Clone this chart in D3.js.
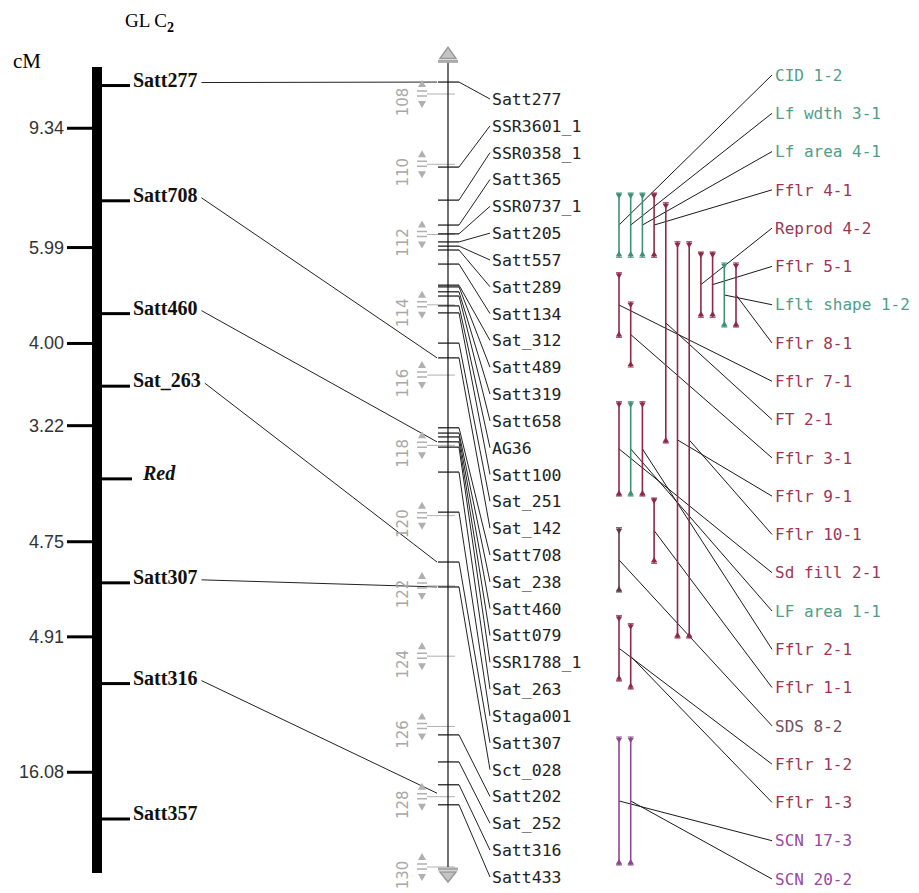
<!DOCTYPE html>
<html>
<head>
<meta charset="utf-8">
<script src="https://cdn.jsdelivr.net/npm/d3@7"></script>
<style>
  body { margin: 0; background: #fff; }
</style>
</head>
<body>
<svg width="919" height="893"></svg>
<script>
// Left linkage group (drawn positions; spacing is not proportional)
const leftMarkers = ["Satt277", "Satt708", "Satt460", "Sat_263", "Red", "Satt307", "Satt316", "Satt357"];
const leftMarkerPos = [2.3, 16.6, 30.6, 39.6, 51.1, 64.0, 76.5, 93.3];
const intervalLabels = ["9.34", "5.99", "4.00", "3.22", "4.75", "4.91", "16.08"];
const intervalPos = [7.6, 22.4, 34.3, 44.5, 58.9, 70.7, 87.5];

// Consensus map (cM)
const consMarkers = ["Satt277", "SSR3601_1", "SSR0358_1", "Satt365", "SSR0737_1", "Satt205", "Satt557",
  "Satt289", "Satt134", "Sat_312", "Satt489", "Satt319", "Satt658", "AG36", "Satt100", "Sat_251",
  "Sat_142", "Satt708", "Sat_238", "Satt460", "Satt079", "SSR1788_1", "Sat_263", "Staga001",
  "Satt307", "Sct_028", "Satt202", "Sat_252", "Satt316", "Satt433"];
const consPos = [107.66, 110.08, 111.02, 111.73, 111.98, 112.21, 112.33, 112.44, 112.84, 113.44,
  113.49, 113.63, 113.75, 114.03, 114.23, 115.09, 115.51, 117.50, 117.65, 117.76, 117.90, 118.05,
  118.76, 119.90, 121.32, 122.03, 126.24, 127.01, 127.66, 128.23];
const scaleTicks = [108, 110, 112, 114, 116, 118, 120, 122, 124, 126, 128, 130];
const axisExtent = [107.1, 130];

// Lines from the left group to the consensus axis
const linkFrom = ["Satt277", "Satt708", "Satt460", "Sat_263", "Satt307", "Satt316"];
const linkTo = [107.66, 115.51, 117.9, 121.32, 122.03, 127.9];

// QTL intervals
const qtlNames = ["CID 1-2", "Lf wdth 3-1", "Lf area 4-1", "Fflr 4-1", "Reprod 4-2", "Fflr 5-1",
  "Lflt shape 1-2", "Fflr 8-1", "Fflr 7-1", "FT 2-1", "Fflr 3-1", "Fflr 9-1", "Fflr 10-1",
  "Sd fill 2-1", "LF area 1-1", "Fflr 2-1", "Fflr 1-1", "SDS 8-2", "Fflr 1-2", "Fflr 1-3",
  "SCN 17-3", "SCN 20-2"];
const qtlGroup = ["leaf", "leaf", "leaf", "flower", "flower", "flower", "leaf", "flower", "flower",
  "flower", "flower", "flower", "flower", "flower", "leaf", "flower", "flower", "sds", "flower",
  "flower", "scn", "scn"];
const qtlLane = [0, 1, 2, 3, 7, 8, 9, 10, 0, 4, 1, 5, 6, 0, 1, 2, 3, 0, 0, 1, 0, 1];
const qtlStart = [110.82, 110.82, 110.82, 110.82, 112.50, 112.50, 112.81, 112.81, 113.09, 111.10,
  113.92, 112.21, 112.21, 116.76, 116.76, 116.76, 119.50, 120.35, 122.85, 123.08, 126.30, 126.30];
const qtlEnd = [112.64, 112.64, 112.64, 112.64, 114.35, 114.35, 114.63, 114.63, 114.92, 117.93,
  115.77, 123.48, 123.48, 119.44, 119.44, 119.44, 121.35, 122.17, 124.70, 124.93, 129.94, 129.94];

const barColor = { leaf: "#3f9078", flower: "#902848", scn: "#8a4a90", sds: "#5e3a46" };
const textColor = { leaf: "#4f9e88", flower: "#a03454", scn: "#9a48a0", sds: "#70505c" };

const svg = d3.select("svg");
const mono = "'DejaVu Sans Mono', monospace";
const serif = "'Liberation Serif', 'Times New Roman', serif";

// Scales
const yLeft = d3.scaleLinear().domain([0, 100]).range([67, 873]);
const y = d3.scaleLinear().domain([108, 130]).range([94, 867]);
const consLabelY = d3.scalePoint().domain(consMarkers).range([99, 877]);
const qtlLabelY = d3.scalePoint().domain(qtlNames).range([75, 879]);
const laneX = d3.scaleLinear().domain([0, 10]).range([619, 736]);

const axisX = 448;

// ---- Left linkage group ----
svg.append("text")
    .attr("x", 125).attr("y", 27)
    .style("font-family", serif).style("font-size", "19px")
    .text("GL C")
  .append("tspan")
    .attr("dy", 5).style("font-size", "14px").style("font-weight", "bold")
    .text("2");

svg.append("text")
    .attr("x", 13).attr("y", 68)
    .style("font-family", serif).style("font-size", "21px")
    .text("cM");

svg.append("rect")
    .attr("x", 92).attr("width", 10)
    .attr("y", yLeft(0)).attr("height", yLeft(100) - yLeft(0))
    .attr("fill", "#000");

svg.selectAll(".itick")
  .data(intervalPos)
  .enter()
  .append("line")
    .attr("x1", 67).attr("x2", 92)
    .attr("y1", d => yLeft(d)).attr("y2", d => yLeft(d))
    .attr("stroke", "#000").attr("stroke-width", 3);

svg.selectAll(".ilabel")
  .data(intervalLabels)
  .enter()
  .append("text")
    .attr("x", 64)
    .attr("y", (d, i) => yLeft(intervalPos[i]) + 6)
    .attr("text-anchor", "end")
    .style("font-family", "'Liberation Sans', Arial, sans-serif")
    .style("font-size", "18px")
    .style("fill", "#333")
    .text(d => d);

svg.selectAll(".mtick")
  .data(leftMarkers)
  .enter()
  .append("line")
    .attr("x1", 102)
    .attr("x2", d => d === "Red" ? 132 : 130)
    .attr("y1", (d, i) => yLeft(leftMarkerPos[i]))
    .attr("y2", (d, i) => yLeft(leftMarkerPos[i]))
    .attr("stroke", "#000").attr("stroke-width", 3);

const leftLabels = svg.selectAll(".mlabel")
  .data(leftMarkers)
  .enter()
  .append("text")
    .attr("x", d => d === "Red" ? 143 : 133)
    .attr("y", (d, i) => yLeft(leftMarkerPos[i]) + 1)
    .style("font-family", serif)
    .style("font-size", "20px")
    .style("font-weight", "bold")
    .style("font-style", d => d === "Red" ? "italic" : "normal")
    .style("fill", "#111")
    .text(d => d);

// Links from the left group to the consensus axis
const labelEnd = {};
leftLabels.each(function (d) {
  const b = this.getBBox();
  labelEnd[d] = b.x + b.width;
});
svg.selectAll(".link")
  .data(linkFrom)
  .enter()
  .append("line")
    .attr("x1", d => labelEnd[d] + 4)
    .attr("y1", d => yLeft(leftMarkerPos[leftMarkers.indexOf(d)]) - 3)
    .attr("x2", axisX - 11)
    .attr("y2", (d, i) => y(linkTo[i]))
    .attr("stroke", "#222").attr("stroke-width", 1);

// ---- Consensus axis ----
const grey = "#b0b0b0";
const scaleG = svg.append("g");
scaleTicks.forEach(v => {
  const t = y(v);
  scaleG.append("line")
      .attr("x1", 427).attr("x2", 455).attr("y1", t).attr("y2", t)
      .attr("stroke", grey).attr("stroke-width", 1);
  scaleG.append("path")
      .attr("d", `M418,${t - 7}L422,${t - 14}L426,${t - 7}Z M418,${t + 7}L422,${t + 14}L426,${t + 7}Z`)
      .attr("fill", grey);
  scaleG.append("path")
      .attr("d", `M417,${t - 3}H427 M417,${t + 2}H427`)
      .attr("stroke", grey).attr("stroke-width", 1.5);
  scaleG.append("text")
      .attr("transform", `translate(408,${t + 8}) rotate(-90)`)
      .attr("text-anchor", "middle")
      .style("font-family", "'DejaVu Sans', sans-serif")
      .style("font-size", "15px")
      .style("fill", "#a8a8a8")
      .text(v);
});

const yTop = y(axisExtent[0]), yBot = y(axisExtent[1]);
svg.append("line")
    .attr("x1", axisX).attr("x2", axisX)
    .attr("y1", yTop).attr("y2", yBot)
    .attr("stroke", "#111").attr("stroke-width", 1.2);
svg.append("path")
    .attr("d", `M440,${yTop - 4}L${axisX},${yTop - 15}L456,${yTop - 4}Z`)
    .attr("fill", "#c4c4c4").attr("stroke", "#999").attr("stroke-width", 1.5);
svg.append("line")
    .attr("x1", 438).attr("x2", 458).attr("y1", yTop - 1).attr("y2", yTop - 1)
    .attr("stroke", "#aaa").attr("stroke-width", 3);
svg.append("path")
    .attr("d", `M440,${yBot + 5}L${axisX},${yBot + 15}L456,${yBot + 5}Z`)
    .attr("fill", "#c4c4c4").attr("stroke", "#999").attr("stroke-width", 1.5);
svg.append("line")
    .attr("x1", 438).attr("x2", 458).attr("y1", yBot + 2).attr("y2", yBot + 2)
    .attr("stroke", "#aaa").attr("stroke-width", 3);

// marker ticks, connectors and names
svg.selectAll(".ctick")
  .data(consPos)
  .enter()
  .append("line")
    .attr("x1", axisX - 10).attr("x2", axisX + 11)
    .attr("y1", d => y(d)).attr("y2", d => y(d))
    .attr("stroke", "#111").attr("stroke-width", 1.2);

svg.selectAll(".cconn")
  .data(consMarkers)
  .enter()
  .append("line")
    .attr("x1", axisX + 11)
    .attr("y1", (d, i) => y(consPos[i]))
    .attr("x2", 490)
    .attr("y2", d => consLabelY(d))
    .attr("stroke", "#222").attr("stroke-width", 1);

svg.selectAll(".clabel")
  .data(consMarkers)
  .enter()
  .append("text")
    .attr("x", 492)
    .attr("y", d => consLabelY(d))
    .attr("dy", "0.36em")
    .style("font-family", mono)
    .style("font-size", "16.5px")
    .style("fill", "#222")
    .text(d => d);

// ---- QTL intervals ----
const qtl = qtlNames.map((name, i) => ({
  name, group: qtlGroup[i], lane: qtlLane[i], start: qtlStart[i], end: qtlEnd[i]
}));

svg.selectAll(".qconn")
  .data(qtl)
  .enter()
  .append("line")
    .attr("x1", d => laneX(d.lane))
    .attr("y1", d => y((d.start + d.end) / 2))
    .attr("x2", 772)
    .attr("y2", d => qtlLabelY(d.name))
    .attr("stroke", "#1a1a1a").attr("stroke-width", 1);

const bars = svg.selectAll(".qbar")
  .data(qtl)
  .enter()
  .append("g");

bars.append("line")
    .attr("x1", d => laneX(d.lane)).attr("x2", d => laneX(d.lane))
    .attr("y1", d => y(d.start)).attr("y2", d => y(d.end))
    .attr("stroke", d => barColor[d.group]).attr("stroke-width", 1.6);

bars.append("path")
    .attr("d", d => {
      const x = laneX(d.lane), a = y(d.start), b = y(d.end);
      return `M${x - 3},${a}H${x + 3} M${x - 3},${b}H${x + 3}`;
    })
    .attr("stroke", d => barColor[d.group]).attr("stroke-width", 1.2);

bars.append("path")
    .attr("d", d => {
      const x = laneX(d.lane), a = y(d.start), b = y(d.end);
      return `M${x - 3},${a + 1}L${x},${a + 6}L${x + 3},${a + 1}Z M${x - 3},${b - 1}L${x},${b - 6}L${x + 3},${b - 1}Z`;
    })
    .attr("fill", d => barColor[d.group]);

svg.selectAll(".qlabel")
  .data(qtl)
  .enter()
  .append("text")
    .attr("x", 775)
    .attr("y", d => qtlLabelY(d.name))
    .attr("dy", "0.36em")
    .style("font-family", mono)
    .style("font-size", "16px")
    .style("fill", d => textColor[d.group])
    .text(d => d.name);
</script>
</body>
</html>
